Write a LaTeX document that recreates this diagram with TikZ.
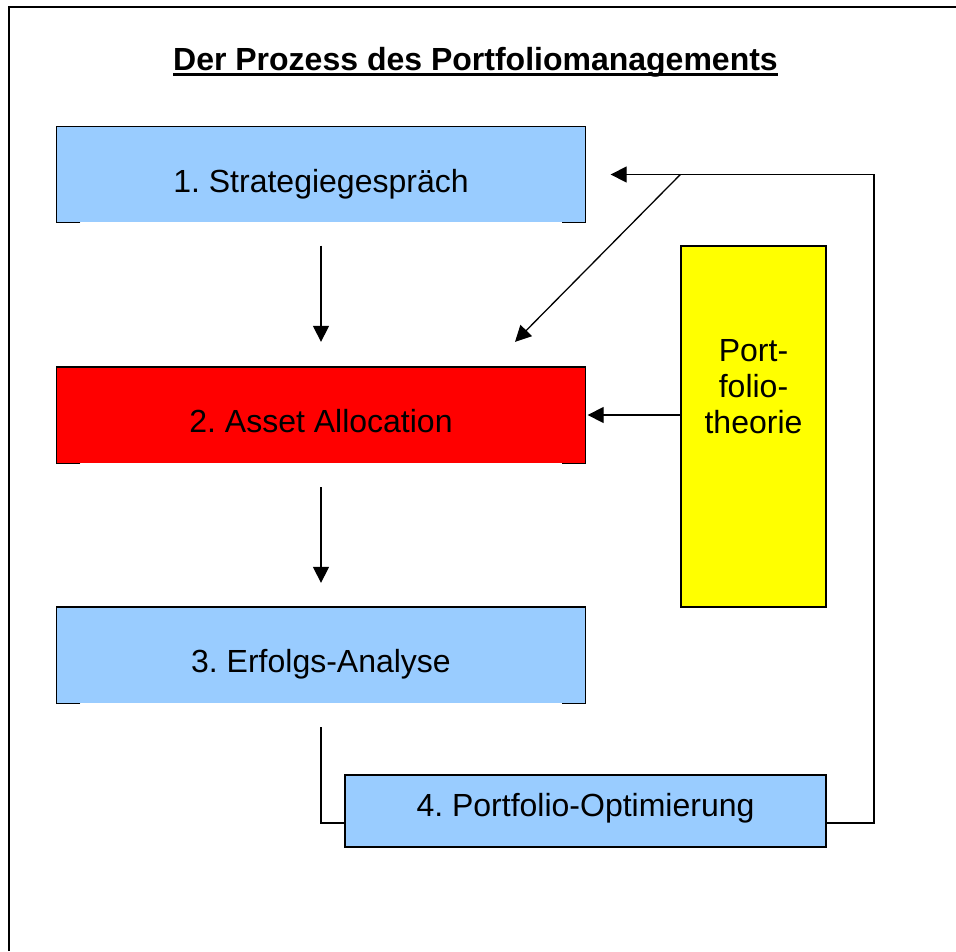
\documentclass[tikz,border=0pt]{standalone}
\usepackage{fontspec}
\setmainfont{Liberation Sans}
\usetikzlibrary{arrows.meta}
\definecolor{lblue}{HTML}{99CCFF}
\definecolor{pyellow}{HTML}{FFFF00}
\newcommand{\ulbox}[1]{\setbox0\hbox{#1}\rlap{\rule[-5.5pt]{\wd0}{2.6pt}}\box0}
\frenchspacing

\tikzset{
  stepbox/.style={fill=#1, minimum width=528pt, minimum height=95pt, inner sep=0pt,
    text height=38pt, text depth=3pt},
  optbox/.style={draw, fill=lblue, minimum width=481pt, minimum height=72pt, inner sep=0pt,
    text height=22pt, text depth=11pt},
  theobox/.style={draw, fill=pyellow, minimum width=145pt, minimum height=361pt, inner sep=0pt},
  arr/.style={-{Triangle[length=16pt,width=16pt]}}
}

\begin{document}
\begin{tikzpicture}[x=1pt, y=1pt, yscale=-1, line width=1.3pt, font=\fontsize{32}{36}\selectfont]
\useasboundingbox (0,0) rectangle (956,951);
\draw (9,951) -- (9,7) -- (956,7);
\node[anchor=base, font=\fontsize{32}{36}\selectfont\bfseries] (title) at (475.5,70) {\ulbox{Der Prozess des Portfoliomanagements}};

\node[stepbox=lblue] (b1) at (321,174.5) {1. Strategiegespräch};
\node[stepbox=red] (b2) at (321,415) {2. Asset Allocation};
\node[stepbox=lblue] (b3) at (321,655) {3. Erfolgs-Analyse};
\node[optbox] (b4) at (585.5,811) {4. Portfolio-Optimierung};
\node[theobox] (pt) at (753.5,426.5) {};
\node[align=center] (ptlabel) at (753.5,387) {Port-\\folio-\\theorie};

% open bottom edge on the three steps
\foreach \n in {b1,b2,b3}
  \draw ([xshift=24]\n.south west) -- (\n.south west) -- (\n.north west)
    -- (\n.north east) -- (\n.south east) -- ([xshift=-24]\n.south east);

\draw[arr] ([yshift=23]b1.south) -- ([yshift=-25]b2.north);
\draw[arr] ([yshift=24]b2.south) -- ([yshift=-24]b3.north);
\draw ([yshift=24]b3.south) |- ([yshift=12]b4.west);

% feedback loop
\coordinate (back) at (874,174.5);
\coordinate (split) at (pt.west |- back);
\draw[arr] ([yshift=12]b4.east) -| (back) -- ([xshift=25]b1.east);
\draw[arr] (split) -- ([xshift=194,yshift=-25]b2.north);
\draw[arr] (pt.west |- b2) -- ([xshift=2]b2.east);
\end{tikzpicture}
\end{document}
